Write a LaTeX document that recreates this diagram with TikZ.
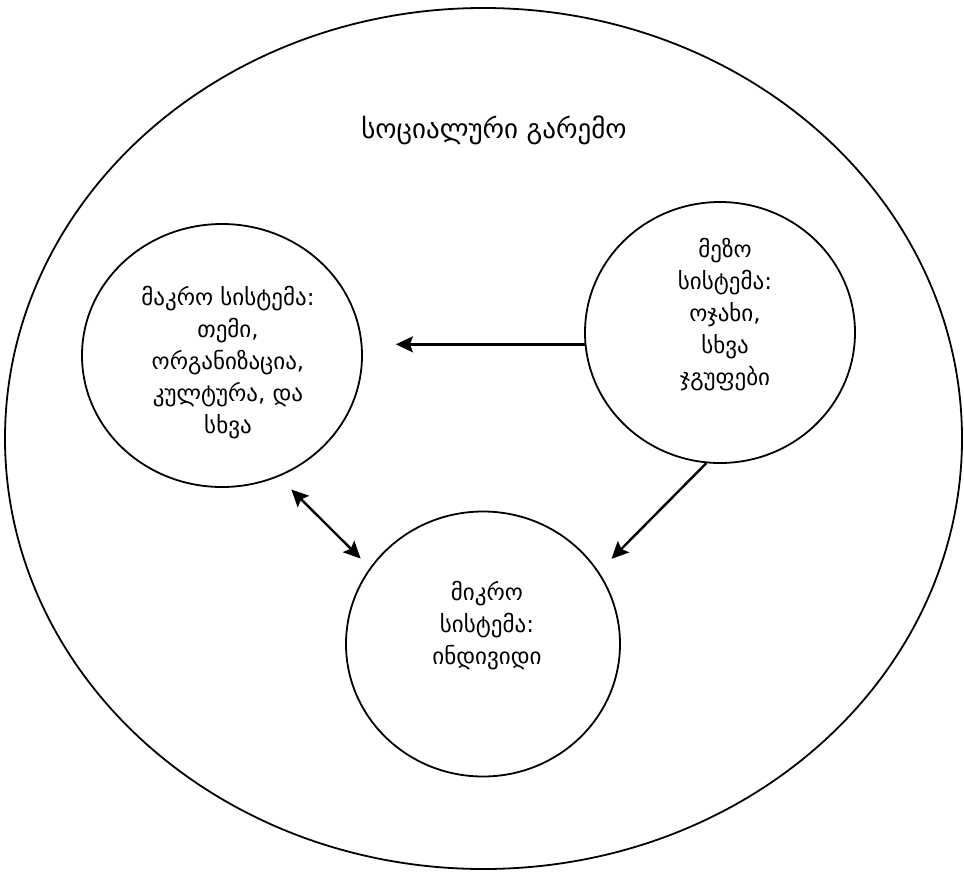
\documentclass[tikz,border=0pt]{standalone}
\usepackage{fontspec}
\setmainfont{DejaVu Sans}
\usetikzlibrary{shapes.geometric,arrows.meta}
\begin{document}
\begin{tikzpicture}[x=1pt,y=1pt,yscale=-1,xscale=1,
  circ/.style={draw,ellipse,line width=1.8pt,inner sep=0pt},
  arr/.style={line width=2.4pt,-{Stealth[length=17pt,width=16pt,inset=3pt]}},
  txt/.style={align=center,font=\fontsize{23}{32}\selectfont,inner sep=0pt}]
\useasboundingbox (0,0) rectangle (964,873);

%Shape: Ellipse [social environment]
\node [circ,minimum width=957pt,minimum height=861pt] (env) at (483.5,438.5) {};
%Shape: Ellipse [macro]
\node [circ,minimum width=280pt,minimum height=263pt] (macro) at (222,355.5) {};
%Shape: Ellipse [meso]
\node [circ,minimum width=270pt,minimum height=261pt] (meso) at (720,332.5) {};
%Shape: Ellipse [micro]
\node [circ,minimum width=274pt,minimum height=265pt] (micro) at (483,644) {};

%Straight Lines
\draw [arr,shorten >=33pt] (meso.185) -- (meso.185 -| macro.east);
\draw [arr,shorten >=18pt] (meso.264) -- (micro.32);
\draw [arr,{Stealth[length=17pt,width=16pt,inset=3pt]}-{Stealth[length=17pt,width=16pt,inset=3pt]},shorten <=18pt,shorten >=13pt] (macro.295) -- (micro.146);

% Text Node
\node [txt,font=\fontsize{27}{32}\selectfont] (envtxt) at (494,130) {სოციალური გარემო};
% Text Node
\node [txt] (macrotxt) at (228,363) {მაკრო სისტემა:\\თემი,\\ორგანიზაცია,\\კულტურა, და\\სხვა};
% Text Node
\node [txt] (mesotxt) at (725,315) {მეზო\\სისტემა:\\ოჯახი,\\სხვა\\ჯგუფები};
% Text Node
\node [txt] (microtxt) at (487,626) {მიკრო\\სისტემა:\\ინდივიდი};

\end{tikzpicture}
\end{document}
